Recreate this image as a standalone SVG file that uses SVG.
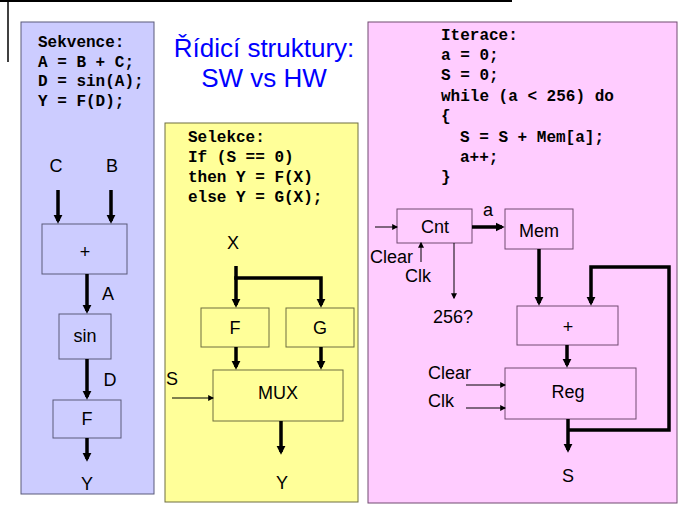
<svg xmlns="http://www.w3.org/2000/svg" width="695" height="519" viewBox="0 0 695 519">
<style>
.code{font-family:"Liberation Mono","Courier New",monospace;font-weight:bold;font-size:16px;fill:#000}
.lbl{font-family:"Liberation Sans",Arial,sans-serif;font-size:18px;fill:#000}
.mid{text-anchor:middle}
.title{font-family:"Liberation Sans",Arial,sans-serif;font-size:26px;fill:#0000ff;text-anchor:middle}
.bbox{fill:#ccccff;stroke:#5a5a7a;stroke-width:1}
.ybox{fill:#ffff99;stroke:#6e6e40;stroke-width:1}
.pbox{fill:#ffccff;stroke:#704a70;stroke-width:1}
.thick{stroke:#000;stroke-width:3.5;fill:none;marker-end:url(#ah)}
.thin{stroke:#000;stroke-width:1;fill:none;marker-end:url(#as)}
</style>
<defs>
<marker id="ah" viewBox="0 0 10 10" refX="7" refY="5" markerUnits="userSpaceOnUse" markerWidth="9" markerHeight="10" orient="auto"><path d="M0,0 L10,5 L0,10 z" fill="#000"/></marker>
<marker id="as" viewBox="0 0 10 10" refX="8" refY="5" markerUnits="userSpaceOnUse" markerWidth="6" markerHeight="6" orient="auto"><path d="M0,0 L10,5 L0,10 z" fill="#000"/></marker>
</defs>
<rect width="695" height="519" fill="#fff"/>
<g id="frame">
<line x1="0" y1="1" x2="512" y2="1" stroke="#000" stroke-width="2"/>
<line x1="8" y1="0" x2="8" y2="62" stroke="#000" stroke-width="1.5"/>
</g>
<g id="panel-sekvence">
<rect class="bbox" x="21" y="22" width="133" height="472" stroke="#7a7a90"/>
<text class="code" x="38" y="47">Sekvence:</text>
<text class="code" x="38" y="66.5">A = B + C;</text>
<text class="code" x="38" y="86">D = sin(A);</text>
<text class="code" x="38" y="105.5">Y = F(D);</text>
</g>
<g id="title">
<text class="title" x="264" y="57">Řídicí struktury:</text>
<text class="title" x="264" y="87">SW vs HW</text>
</g>
<g id="panel-selekce">
<rect class="ybox" x="165" y="123" width="193" height="379" stroke="#80804a"/>
<text class="code" x="188" y="142">Selekce:</text>
<text class="code" x="188" y="162">If (S == 0)</text>
<text class="code" x="188" y="182">then Y = F(X)</text>
<text class="code" x="188" y="202">else Y = G(X);</text>
</g>
<g id="panel-iterace">
<rect class="pbox" x="368" y="22" width="309" height="481" stroke="#806080"/>
<text class="code" x="441" y="40">Iterace:</text>
<text class="code" x="441" y="60">a = 0;</text>
<text class="code" x="441" y="80">S = 0;</text>
<text class="code" x="441" y="101">while (a &lt; 256) do</text>
<text class="code" x="441" y="121">{</text>
<text class="code" x="460" y="141.5">S = S + Mem[a];</text>
<text class="code" x="460" y="162">a++;</text>
<text class="code" x="441" y="182">}</text>
</g>
<g id="seq-labels">
<text class="lbl mid" x="56" y="172">C</text>
<text class="lbl mid" x="112" y="172">B</text>
<text class="lbl mid" x="108" y="300">A</text>
<text class="lbl mid" x="110" y="386">D</text>
<text class="lbl mid" x="87" y="490">Y</text>
</g>
<g id="seq-add"><rect class="bbox" x="42" y="224" width="85" height="50"/><text class="lbl mid" x="85" y="258">+</text></g>
<g id="seq-sin"><rect class="bbox" x="59" y="314" width="52" height="45"/><text class="lbl mid" x="85" y="342">sin</text></g>
<g id="seq-f"><rect class="bbox" x="53" y="400" width="68" height="38"/><text class="lbl mid" x="87" y="425">F</text></g>
<g id="sel-labels">
<text class="lbl mid" x="233" y="249">X</text>
<text class="lbl" x="166" y="385">S</text>
<text class="lbl mid" x="282" y="489">Y</text>
</g>
<g id="sel-f"><rect class="ybox" x="201" y="308" width="68" height="39"/><text class="lbl mid" x="235" y="334">F</text></g>
<g id="sel-g"><rect class="ybox" x="286" y="308" width="68" height="39"/><text class="lbl mid" x="320" y="334">G</text></g>
<g id="sel-mux"><rect class="ybox" x="213" y="370" width="130" height="51"/><text class="lbl mid" x="278" y="399">MUX</text></g>
<g id="it-labels">
<text class="lbl mid" x="488" y="216">a</text>
<text class="lbl" x="370" y="263">Clear</text>
<text class="lbl" x="405" y="282">Clk</text>
<text class="lbl mid" x="453" y="323">256?</text>
<text class="lbl" x="428" y="379">Clear</text>
<text class="lbl" x="428" y="407">Clk</text>
<text class="lbl mid" x="568" y="482">S</text>
</g>
<g id="it-cnt"><rect class="pbox" x="397" y="209" width="75" height="34"/><text class="lbl mid" x="435" y="233">Cnt</text></g>
<g id="it-mem"><rect class="pbox" x="505" y="209" width="68" height="40"/><text class="lbl mid" x="539" y="237">Mem</text></g>
<g id="it-add"><rect class="pbox" x="517" y="306" width="101" height="39"/><text class="lbl mid" x="568" y="333">+</text></g>
<g id="it-reg"><rect class="pbox" x="505" y="368" width="131" height="51"/><text class="lbl mid" x="568" y="398">Reg</text></g>
<g id="connectors">
<line class="thick" x1="58" y1="190" x2="58" y2="221"/>
<line class="thick" x1="111" y1="190" x2="111" y2="221"/>
<line class="thick" x1="87" y1="274" x2="87" y2="311"/>
<line class="thick" x1="87" y1="359" x2="87" y2="397"/>
<line class="thick" x1="87" y1="438" x2="87" y2="459"/>
<line class="thick" x1="236" y1="266" x2="236" y2="305"/>
<path class="thick" d="M234.25,278 H321 V305"/>
<line class="thick" x1="236" y1="347" x2="236" y2="367"/>
<line class="thick" x1="321" y1="347" x2="321" y2="367"/>
<line class="thin" x1="172" y1="398" x2="213" y2="398"/>
<line class="thick" x1="281" y1="421" x2="281" y2="452"/>
<line class="thin" x1="375" y1="227" x2="397" y2="227"/>
<line class="thick" x1="472" y1="227" x2="502" y2="227"/>
<line class="thin" x1="421" y1="262" x2="421" y2="243"/>
<line class="thin" x1="454" y1="243" x2="454" y2="298"/>
<line class="thick" x1="539" y1="249" x2="539" y2="303"/>
<path class="thick" d="M568,430 H669 V267 H591 V303"/>
<line class="thick" x1="567" y1="345" x2="567" y2="365"/>
<line class="thin" x1="466" y1="385" x2="505" y2="385"/>
<line class="thin" x1="466" y1="408" x2="505" y2="408"/>
<line class="thick" x1="568" y1="419" x2="568" y2="450"/>
</g>
</svg>
